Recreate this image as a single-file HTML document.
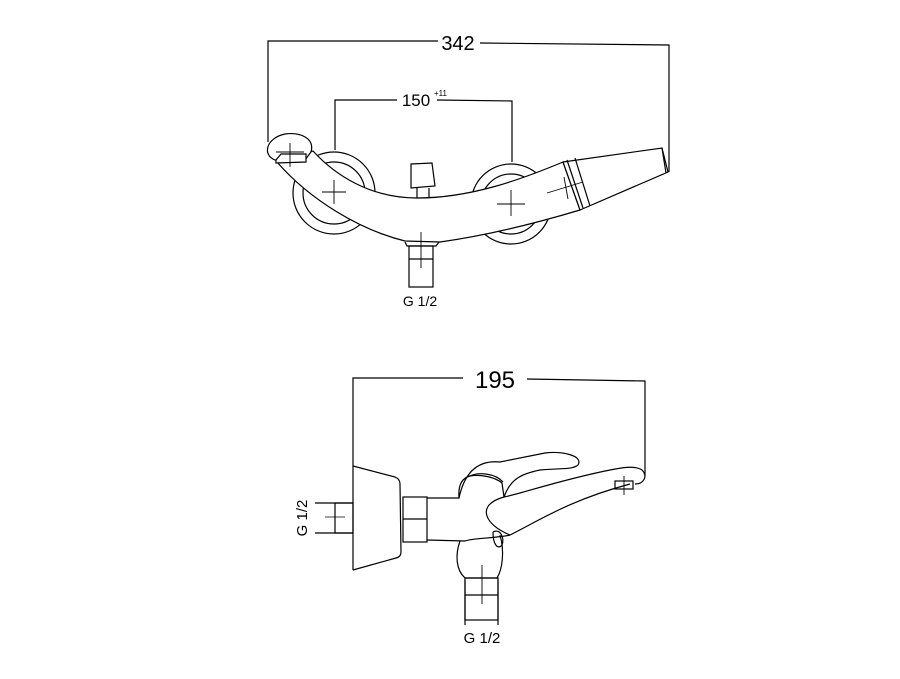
<!DOCTYPE html>
<html><head><style>html,body{margin:0;padding:0;background:#fff}svg{display:block}</style></head>
<body>
<svg width="900" height="679" viewBox="0 0 900 679" xmlns="http://www.w3.org/2000/svg" font-family="Liberation Sans, sans-serif">
<g fill="none" stroke="#000" stroke-width="1.2">
<!-- top dims -->
<polyline points="268,142 268,41 438,41"/>
<polyline points="480,43 669,45 669,172"/>
<polyline points="335,150 335,100 397,100"/>
<polyline points="437,100 512,101 512,162"/>
<!-- flanges -->
<circle cx="334" cy="193" r="41"/>
<circle cx="334" cy="193" r="31"/>
<circle cx="511" cy="204" r="40"/>
<circle cx="511" cy="204" r="30"/>
<!-- body (white fill covers flanges) -->
<path d="M313,151 C335,175 370,198 417,198 C470,198 520,180 563,162 L580,210 C540,222 490,235 440,242 L405,241 C360,230 310,200 277,162 Z" fill="#fff"/>
<!-- spout head -->
<path d="M275,160 C262,155 266,138 285,134 C300,132 315,138 311,152 L305,160 Z" fill="#fff"/>
<path d="M276,160 L281,154 L306,154 L306,162 L276,163 Z" fill="#fff"/>
<!-- nozzle -->
<path d="M563,162 L662,148 L668,172 L580,210 Z" fill="#fff"/>
<line x1="567" y1="160" x2="583" y2="208"/>
<line x1="575" y1="158" x2="590" y2="206"/>
<line x1="662" y1="148" x2="666" y2="173"/>
<!-- knob -->
<path d="M411,164 L432,163 L435,186 L411,188 Z" fill="#fff"/>
<path d="M417,188 L417,198 M429,188 L429,198"/>
<!-- bottom connector -->
<path d="M405,242 L407,246 L436,246 L439,242"/>
<rect x="409" y="246" width="24" height="41"/>
<line x1="409" y1="259" x2="433" y2="259"/>
<!-- crosses -->
<g stroke-width="0.9">
<path d="M290,143 V167 M276,152 H304"/>
<path d="M334,180 V204 M322,192 H346"/>
<path d="M511,190 V216 M497,204 H525"/>
<path d="M547,193 L583,182 M564,177 L568,199"/>
<path d="M421,232 V268"/>
</g>
<!-- bottom dims -->
<polyline points="353,570 353,378 463,378"/>
<polyline points="527,379 645,381 645,476"/>
<line x1="315" y1="503" x2="353" y2="503"/>
<line x1="315" y1="533" x2="353" y2="533"/>
<line x1="325" y1="517" x2="345" y2="517" stroke-width="0.8"/>
<line x1="465" y1="580" x2="465" y2="625"/>
<line x1="498" y1="580" x2="498" y2="625"/>
<!-- wall plate -->
<path d="M353,466 L395,477 Q400,479 400,484 L401,552 Q401,557 396,558 L353,570"/>
<rect x="335" y="503" width="18" height="30"/>
<rect x="403" y="497" width="24" height="45"/>
<line x1="403" y1="519" x2="427" y2="519"/>
<!-- body -->
<path d="M427,498 L459,498 C458,485 462,478 470,476 C480,474 495,477 502,483 L504,497 C520,494 560,480 610,470 C620,468 635,465 642,470 C648,476 644,484 635,484"/>
<path d="M459,498 C465,470 480,460 500,462 L545,453 C560,451 584,455 578,465 C572,470 560,468 540,470 C520,474 510,480 504,497"/>
<path d="M470,476 C478,472 495,473 503,482"/>
<path d="M427,540 L465,541 C472,538 500,538 510,535"/>
<path d="M504,497 C475,505 485,525 510,535 C540,520 570,500 630,484"/>
<path d="M460,541 C455,555 456,570 465,578 L497,578 C502,570 505,552 500,535"/>
<path d="M493,532 C500,528 505,538 502,545 C498,550 493,545 493,532"/>
<rect x="465" y="578" width="33" height="42"/>
<line x1="465" y1="595" x2="498" y2="595"/>
<rect x="615" y="481" width="18" height="8"/>
<g stroke-width="0.9">
<path d="M624,476 V495"/>
<path d="M482,565 V604"/>
</g>
</g>
<g fill="#000">
<text x="458" y="50" font-size="20" text-anchor="middle">342</text>
<text x="416" y="106" font-size="17" text-anchor="middle">150</text>
<text x="434" y="96" font-size="8">+11</text>
<text x="420" y="306" font-size="14" text-anchor="middle">G 1/2</text>
<text x="495" y="388" font-size="24" text-anchor="middle">195</text>
<text x="482" y="643" font-size="15" text-anchor="middle">G 1/2</text>
<text x="0" y="0" font-size="15" text-anchor="middle" transform="translate(307,518) rotate(-90)">G 1/2</text>
</g>
</svg>
</body></html>
